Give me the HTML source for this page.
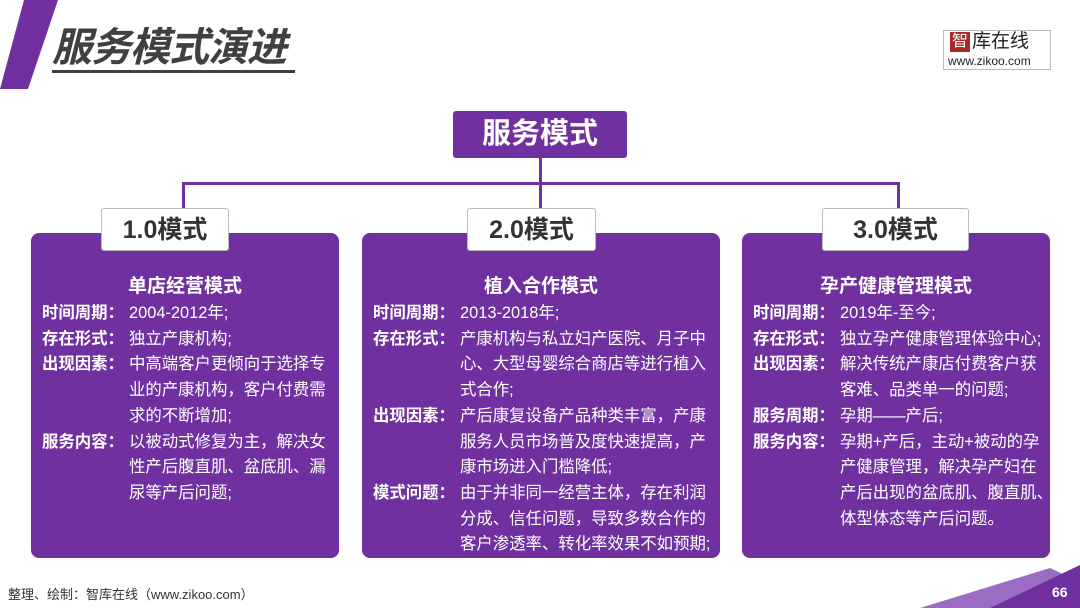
<!DOCTYPE html>
<html><head><meta charset="utf-8"><style>
*{margin:0;padding:0;box-sizing:border-box}
body{width:1080px;height:608px;position:relative;background:#fff;overflow:hidden;font-family:"Liberation Sans","Noto Sans CJK SC",sans-serif}
.a{position:absolute}
.card{position:absolute;top:233px;height:325px;background:#7030a0;border-radius:8px;color:#fff}
.card h3{position:absolute;top:42px;left:0;right:0;text-align:center;font-size:19px;font-weight:bold;line-height:24px}
.body{position:absolute;top:68px;left:11px;right:0}
.it{display:flex;font-size:16.4px;line-height:25.7px}
.it b{flex:none;width:87px;white-space:nowrap}
.it span{flex:1;white-space:nowrap}
.lab{position:absolute;top:208px;height:43px;background:#fff;border:1px solid #bbb;border-radius:3px;font-size:25px;font-weight:bold;color:#333;text-align:center;line-height:42px}
.ln{position:absolute;background:#7030a0}
</style></head><body>
<svg class="a" style="left:0;top:0" width="70" height="95"><polygon points="24,0 58,0 28,89 0,89" fill="#7030a0"/></svg>
<div class="a" style="left:52px;top:24px;font-size:40px;font-weight:bold;font-style:italic;color:#404040;line-height:48px;letter-spacing:-1px">服务模式演进</div>
<div class="a" style="left:52px;top:70px;width:243px;height:3px;background:#404040"></div>
<div class="a" style="left:943px;top:30px;width:108px;height:40px;border:1px solid #bbb;background:#fff"></div>
<div class="a" style="left:950px;top:32px;width:20px;height:20px;background:#a52a2a;color:#fff;font-size:16px;line-height:20px;text-align:center">智</div>
<div class="a" style="left:972px;top:30px;font-size:19px;color:#222;line-height:24px">库在线</div>
<div class="a" style="left:948px;top:54px;font-size:12px;color:#222">www.zikoo.com</div>

<div class="a" style="left:453px;top:111px;width:174px;height:47px;background:#7030a0;border-radius:3px;color:#fff;font-size:29px;font-weight:bold;text-align:center;line-height:47px">服务模式</div>
<div class="ln" style="left:539px;top:158px;width:3px;height:52px"></div>
<div class="ln" style="left:182px;top:182px;width:717px;height:3px"></div>
<div class="ln" style="left:182px;top:182px;width:3px;height:28px"></div>
<div class="ln" style="left:897px;top:182px;width:3px;height:28px"></div>

<div class="card" style="left:31px;width:308px"><h3>单店经营模式</h3><div class="body">
<div class="it"><b>时间周期：</b><span>2004-2012年;</span></div>
<div class="it"><b>存在形式：</b><span>独立产康机构;</span></div>
<div class="it"><b>出现因素：</b><span>中高端客户更倾向于选择专<br>业的产康机构，客户付费需<br>求的不断增加;</span></div>
<div class="it"><b>服务内容：</b><span>以被动式修复为主，解决女<br>性产后腹直肌、盆底肌、漏<br>尿等产后问题;</span></div>
</div></div>
<div class="card" style="left:362px;width:358px"><h3>植入合作模式</h3><div class="body">
<div class="it"><b>时间周期：</b><span>2013-2018年;</span></div>
<div class="it"><b>存在形式：</b><span>产康机构与私立妇产医院、月子中<br>心、大型母婴综合商店等进行植入<br>式合作;</span></div>
<div class="it"><b>出现因素：</b><span>产后康复设备产品种类丰富，产康<br>服务人员市场普及度快速提高，产<br>康市场进入门槛降低;</span></div>
<div class="it"><b>模式问题：</b><span>由于并非同一经营主体，存在利润<br>分成、信任问题，导致多数合作的<br>客户渗透率、转化率效果不如预期;</span></div>
</div></div>
<div class="card" style="left:742px;width:308px"><h3>孕产健康管理模式</h3><div class="body">
<div class="it"><b>时间周期：</b><span>2019年-至今;</span></div>
<div class="it"><b>存在形式：</b><span>独立孕产健康管理体验中心;</span></div>
<div class="it"><b>出现因素：</b><span>解决传统产康店付费客户获<br>客难、品类单一的问题;</span></div>
<div class="it"><b>服务周期：</b><span>孕期——产后;</span></div>
<div class="it"><b>服务内容：</b><span>孕期+产后，主动+被动的孕<br>产健康管理，解决孕产妇在<br>产后出现的盆底肌、腹直肌、<br>体型体态等产后问题。</span></div>
</div></div>

<div class="lab" style="left:101px;width:128px">1.0模式</div>
<div class="lab" style="left:467px;width:129px">2.0模式</div>
<div class="lab" style="left:822px;width:147px">3.0模式</div>

<div class="a" style="left:8px;top:584px;font-size:13px;color:#333">整理、绘制：智库在线（www.zikoo.com）</div>
<svg class="a" style="left:900px;top:560px" width="180" height="48"><polygon points="20,48 150,8 180,22 180,48" fill="#9a6cc4"/><polygon points="90,48 180,5 180,48" fill="#7030a0"/></svg>
<div class="a" style="left:1052px;top:584px;font-size:14px;color:#fff;font-weight:bold">66</div>
</body></html>
